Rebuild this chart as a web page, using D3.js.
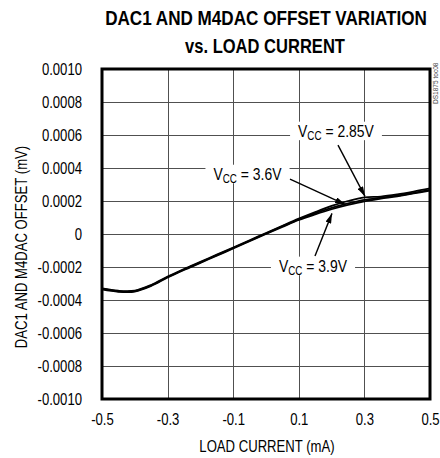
<!DOCTYPE html>
<html>
<head>
<meta charset="utf-8">
<script src="https://cdn.jsdelivr.net/npm/d3@7/dist/d3.min.js"></script>
<style>
  body { margin: 0; background: #fff; }
  svg { display: block; }
  text { font-family: "Liberation Sans", Arial, sans-serif; }
</style>
</head>
<body>
<svg id="chart" width="440" height="458"></svg>
<script>
// ---- data ----
const loadCurrent = [-0.5,-0.45,-0.4,-0.35,-0.3,-0.25,-0.2,-0.15,-0.1,-0.05,0,0.05,0.1,0.15,0.2,0.25,0.3,0.35,0.4,0.45,0.5];
const vcc285 = [-0.000330,-0.000344,-0.000343,-0.000309,-0.000258,-0.000212,-0.000169,-0.000125,-0.000082,-0.000038,0.000006,0.000050,0.000093,0.000133,0.000170,0.000200,0.000222,0.000227,0.000240,0.000257,0.000276];
const vcc36  = [-0.000333,-0.000347,-0.000346,-0.000312,-0.000261,-0.000215,-0.000172,-0.000128,-0.000085,-0.000041,0.000003,0.000047,0.000089,0.000126,0.000158,0.000185,0.000207,0.000220,0.000232,0.000249,0.000268];
const vcc39  = [-0.000336,-0.000350,-0.000349,-0.000315,-0.000264,-0.000218,-0.000175,-0.000131,-0.000088,-0.000044,0.000000,0.000043,0.000085,0.000119,0.000150,0.000176,0.000198,0.000214,0.000228,0.000246,0.000263];
const seriesNames = ["2.85V", "3.6V", "3.9V"];
const xTicks = [-0.5,-0.3,-0.1,0.1,0.3,0.5];
const yTicks = [0.0010,0.0008,0.0006,0.0004,0.0002,0,-0.0002,-0.0004,-0.0006,-0.0008,-0.0010];
const yTickLabels = ["0.0010","0.0008","0.0006","0.0004","0.0002","0","-0.0002","-0.0004","-0.0006","-0.0008","-0.0010"];
const xTickLabels = ["-0.5","-0.3","-0.1","0.1","0.3","0.5"];
// annotations (data coordinates): label anchor, arrow start, arrow tip
const annotations = [
  {name: "2.85V", lx: 0.2134, ly: 0.000588, x1: 0.2195, y1: 0.000539, x2: 0.3018, y2: 0.000228},
  {name: "3.6V",  lx: -0.0564, ly: 0.000327, x1: 0.0732, y1: 0.000333, x2: 0.2409, y2: 0.000180},
  {name: "3.9V",  lx: 0.1433, ly: -0.000230, x1: 0.1494, y1: -0.000133, x2: 0.2012, y2: 0.000125}
];

// ---- helpers ----
const K = 0.82; // horizontal squeeze to mimic a narrow face
function squeezed(parent, px, py, k, anchor) {
  const g = parent.append("g").attr("transform", `translate(${px},${py}) scale(${k},1)`);
  return g.append("text").attr("x", 0).attr("y", 0).attr("text-anchor", anchor || "start");
}
function squeezeAxisText(sel, k) {
  sel.each(function () {
    const t = d3.select(this);
    const x0 = +t.attr("x") || 0;
    t.attr("x", x0 / k).attr("transform", `scale(${k},1)`);
  });
}

// ---- layout ----
const svg = d3.select("#chart");
const L = 102, R = 430, T = 69, B = 399;
const x = d3.scaleLinear().domain([-0.5, 0.5]).range([L, R]);
const y = d3.scaleLinear().domain([-0.001, 0.001]).range([B, T]);

// title (squeezed to the reference widths)
function title(txt, cx, cy, width) {
  const t = squeezed(svg, cx, cy, 1, "middle").attr("font-size", 21).attr("font-weight", "bold").text(txt);
  const w = t.node().getComputedTextLength();
  d3.select(t.node().parentNode).attr("transform", `translate(${cx},${cy}) scale(${width / w},1)`);
}
title("DAC1 AND M4DAC OFFSET VARIATION", 266, 25, 322);
title("vs. LOAD CURRENT", 265, 53, 160);

// grid
const grid = svg.append("g").attr("stroke", "#505050").attr("stroke-width", 1);
grid.selectAll("line.v").data(xTicks.slice(1, -1)).join("line")
  .attr("x1", d => Math.round(x(d)) + 0.5).attr("x2", d => Math.round(x(d)) + 0.5)
  .attr("y1", T).attr("y2", B);
grid.selectAll("line.h").data(yTicks.slice(1, -1)).join("line")
  .attr("y1", d => Math.round(y(d)) + 0.5).attr("y2", d => Math.round(y(d)) + 0.5)
  .attr("x1", L).attr("x2", R);

// axes (labels only)
const yAxis = d3.axisLeft(y).tickValues(yTicks).tickSize(0).tickPadding(20)
  .tickFormat((d, i) => yTickLabels[i]);
const gy = svg.append("g").attr("transform", `translate(${L},0)`).call(yAxis);
gy.select(".domain").remove();
gy.attr("font-family", null).attr("font-size", null);
gy.selectAll("text").attr("font-size", 16).attr("fill", "#000").call(squeezeAxisText, K);

const xAxis = d3.axisBottom(x).tickValues(xTicks).tickSize(0).tickPadding(15)
  .tickFormat((d, i) => xTickLabels[i]);
const gx = svg.append("g").attr("transform", `translate(0,${B})`).call(xAxis);
gx.select(".domain").remove();
gx.attr("font-family", null).attr("font-size", null);
gx.selectAll("text").attr("font-size", 16).attr("fill", "#000").call(squeezeAxisText, K);

// axis titles
squeezed(svg, 267, 452, K, "middle").attr("font-size", 16).text("LOAD CURRENT (mA)");
svg.append("g").attr("transform", "translate(27,247) rotate(-90) scale(0.82,1)")
  .append("text").attr("text-anchor", "middle").attr("font-size", 16).text("DAC1 AND M4DAC OFFSET (mV)");

// side code
svg.append("g").attr("transform", "translate(438,104) rotate(-90) scale(0.82,1)")
  .append("text").attr("font-size", 8).attr("fill", "#444").text("DS1875 toc08");

// annotation labels with white backing (V, subscript CC, rest)
const ann = svg.append("g");
annotations.forEach(a => {
  const g = ann.append("g");
  const inner = g.append("g");
  const t = inner.append("text").attr("x", 0).attr("y", 0).attr("font-size", 17);
  t.append("tspan").text("V");
  t.append("tspan").attr("font-size", 12).attr("dy", 3).text("CC");
  t.append("tspan").attr("dy", -3).text("\u00a0=\u00a0" + a.name);
  const w = t.node().getComputedTextLength();
  inner.attr("transform", `translate(${x(a.lx) - w * K / 2},${y(a.ly)}) scale(${K},1)`);
  const bb = t.node().getBBox();
  g.insert("rect", "g")
    .attr("x", x(a.lx) - w * K / 2 - 8).attr("y", y(a.ly) + bb.y)
    .attr("width", w * K + 16).attr("height", bb.height - 2).attr("fill", "#fff");
});

// curves
const line = d3.line().x((d, i) => x(loadCurrent[i])).y(d => y(d)).curve(d3.curveCatmullRom.alpha(0.5));
[vcc285, vcc36, vcc39].forEach((s, k) => {
  svg.append("path").datum(s).attr("d", line)
    .attr("fill", "none").attr("stroke", "#000").attr("stroke-width", 1.8)
    .attr("stroke-linejoin", "round").attr("class", "series-" + seriesNames[k]);
});

// arrows
svg.append("defs").append("marker").attr("id", "ah")
  .attr("viewBox", "0 0 10 6").attr("refX", 10).attr("refY", 3)
  .attr("markerWidth", 10).attr("markerHeight", 6).attr("markerUnits", "userSpaceOnUse")
  .attr("orient", "auto")
  .append("path").attr("d", "M0,0 L10,3 L0,6 Z").attr("fill", "#000");
annotations.forEach(a => {
  svg.append("line").attr("x1", x(a.x1)).attr("y1", y(a.y1))
    .attr("x2", x(a.x2)).attr("y2", y(a.y2))
    .attr("stroke", "#000").attr("stroke-width", 1.4).attr("marker-end", "url(#ah)");
});

// frame
svg.append("rect").attr("x", L).attr("y", T).attr("width", R - L).attr("height", B - T)
  .attr("fill", "none").attr("stroke", "#000").attr("stroke-width", 3);
</script>
</body>
</html>
